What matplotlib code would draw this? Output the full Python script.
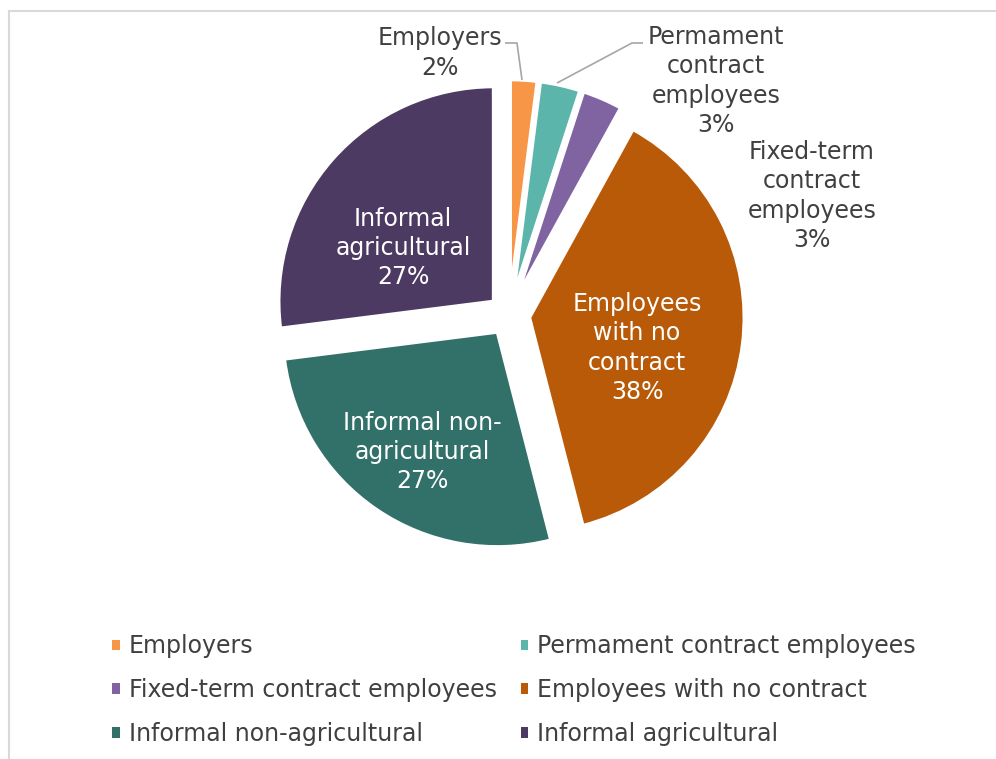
import matplotlib.pyplot as plt
from matplotlib.patches import Patch, Rectangle

plt.rcParams['font.family'] = ['DejaVu Sans']

categories = ['Employers', 'Permament contract employees', 'Fixed-term contract employees',
              'Employees with no contract', 'Informal non-agricultural', 'Informal agricultural']
shares = [2, 3, 3, 38, 27, 27]
slice_labels = ['Employers', 'Permament\ncontract\nemployees', 'Fixed-term\ncontract\nemployees',
                'Employees\nwith no\ncontract', 'Informal non-\nagricultural', 'Informal\nagricultural']
colors = ['#F79646', '#5BB5AA', '#8064A2', '#B85A08', '#32706A', '#4D3A62']

TEXT = '#404040'
FS = 17
W, H = 996, 759
CX, CY, R = 509, 315, 213   # pie centre and radius in pixels


def px(x, y):
    return (x - CX) / R, (CY - y) / R


fig = plt.figure(figsize=(W / 100, H / 100), dpi=100)
K = 2.5
ax = fig.add_axes([(CX - K * R) / W, 1 - (CY + K * R) / H, 2 * K * R / W, 2 * K * R / H])

ax.pie(shares, colors=colors, startangle=90, counterclock=False,
       explode=[0.097] * len(shares), radius=1.008,
       wedgeprops=dict(linewidth=2.4, edgecolor='white'))
ax.set_xlim(-K, K)
ax.set_ylim(-K, K)
ax.set_aspect('equal')
ax.axis('off')

# labels inside the large slices
inside = {3: (637, 348), 4: (422, 452), 5: (403, 248)}
for i, (x, y) in inside.items():
    ax.text(*px(x, y), f'{slice_labels[i]}\n{shares[i]}%', color='white', ha='center',
            va='center', fontsize=FS, linespacing=1.27)

# labels outside the thin slices
outside = {0: (440, 53), 1: (716, 81), 2: (812, 196)}
for i, (x, y) in outside.items():
    ax.text(*px(x, y), f'{slice_labels[i]}\n{shares[i]}%', color=TEXT, ha='center',
            va='center', fontsize=FS, linespacing=1.27)

leaders = [[(505, 43), (517, 43), (522, 80)],
           [(643, 43), (632, 43), (557, 83)]]
for pts in leaders:
    xs, ys = zip(*[px(x, y) for x, y in pts])
    ax.plot(xs, ys, color='#A6A6A6', lw=1.2, solid_capstyle='butt')

# legend reads row by row, matplotlib fills column by column
handles = [Patch(facecolor=c, edgecolor='none', label=n) for c, n in zip(colors, categories)]
order = [0, 2, 4, 1, 3, 5]
fig.legend(handles=[handles[i] for i in order], ncol=2, loc='upper left',
           bbox_to_anchor=(91 / W, 1 - 613 / H),
           frameon=False, fontsize=FS, labelcolor=TEXT, handlelength=0.33, handleheight=0.3,
           handletextpad=0.38, columnspacing=1.0, labelspacing=0.84)

fig.add_artist(Rectangle((8.5 / W, -0.1), 1.2, 1 - 10.5 / H + 0.1, transform=fig.transFigure,
                         fill=False, edgecolor='#D9D9D9', lw=1.5))

fig.savefig('out.png', dpi=100, facecolor='white')
